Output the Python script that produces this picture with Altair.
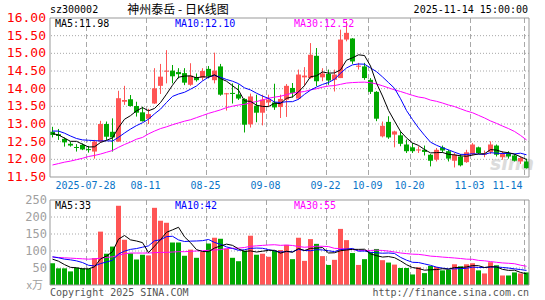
import altair as alt
import pandas as pd
import numpy as np

# ---------------- data ----------------
dates = ["07-18", "07-21", "07-22", "07-23", "07-24", "07-25", "07-28", "07-29", "07-30", "07-31",
         "08-01", "08-04", "08-05", "08-06", "08-07", "08-08", "08-11", "08-12", "08-13", "08-14",
         "08-15", "08-18", "08-19", "08-20", "08-21", "08-22", "08-25", "08-26", "08-27", "08-28",
         "08-29", "09-01", "09-02", "09-03", "09-04", "09-05", "09-08", "09-09", "09-10", "09-11",
         "09-12", "09-15", "09-16", "09-17", "09-18", "09-19", "09-22", "09-23", "09-24", "09-25",
         "09-26", "09-29", "09-30", "10-09", "10-10", "10-13", "10-14", "10-15", "10-16", "10-17",
         "10-20", "10-21", "10-22", "10-23", "10-24", "10-27", "10-28", "10-29", "10-30", "10-31",
         "11-03", "11-04", "11-05", "11-06", "11-07", "11-10", "11-11", "11-12", "11-13", "11-14"]

opens = [12.78, 12.71, 12.58, 12.44, 12.35, 12.41, 12.29, 12.22, 12.50, 13.00,
         12.78, 12.50, 13.63, 13.70, 13.51, 13.33, 13.15, 13.58, 14.08, 14.49,
         14.51, 14.47, 14.44, 14.11, 14.33, 14.31, 14.56, 14.24, 14.63, 13.85,
         13.88, 13.84, 13.71, 12.99, 13.52, 13.32, 13.61, 13.61, 13.48, 13.69,
         14.02, 13.72, 14.32, 14.30, 14.93, 14.32, 14.42, 14.25, 14.30, 15.39,
         15.42, 14.62, 14.63, 14.25, 13.91, 12.65, 13.06, 12.70, 12.68, 12.42,
         12.34, 12.26, 12.27, 12.13, 11.99, 12.34, 12.23, 11.96, 12.08, 11.92,
         12.15, 12.34, 12.14, 12.21, 12.39, 12.06, 12.18, 12.11, 11.94, 11.94]
highs = [12.92, 12.86, 12.62, 12.50, 12.43, 12.45, 12.38, 12.55, 13.09, 13.07,
         13.16, 13.94, 14.08, 13.82, 13.63, 13.49, 13.43, 14.58, 14.70, 15.09,
         14.67, 14.58, 14.58, 14.72, 14.43, 14.58, 14.64, 15.02, 14.70, 13.88,
         14.15, 14.12, 13.73, 13.86, 13.83, 13.83, 13.83, 14.14, 13.83, 14.13,
         14.16, 14.54, 14.61, 15.29, 15.15, 14.58, 14.54, 14.54, 15.67, 15.91,
         15.43, 14.73, 14.73, 14.30, 13.93, 13.07, 13.22, 12.81, 12.79, 12.56,
         12.46, 12.37, 12.39, 12.15, 12.32, 12.39, 12.27, 12.18, 12.15, 12.27,
         12.46, 12.36, 12.25, 12.51, 12.42, 12.23, 12.23, 12.15, 12.08, 12.02]
lows = [12.62, 12.55, 12.36, 12.36, 12.22, 12.26, 12.19, 12.02, 12.47, 12.55,
        12.22, 12.50, 13.54, 13.49, 13.21, 13.07, 13.00, 13.57, 13.85, 14.15,
        14.15, 14.29, 14.10, 14.08, 14.20, 14.23, 14.29, 14.15, 13.80, 13.38,
        13.58, 13.68, 12.76, 12.90, 13.05, 12.96, 13.49, 13.40, 13.17, 13.20,
        13.75, 13.69, 14.07, 14.28, 14.07, 14.21, 14.11, 13.92, 14.30, 15.34,
        14.70, 14.54, 14.25, 13.85, 13.08, 12.62, 12.58, 12.34, 12.37, 12.18,
        12.18, 12.18, 12.11, 11.80, 11.94, 12.19, 11.94, 11.77, 11.80, 11.90,
        12.11, 12.15, 12.06, 12.15, 12.08, 11.99, 12.02, 11.94, 11.87, 11.74]
closes = [12.69, 12.66, 12.48, 12.39, 12.33, 12.28, 12.27, 12.50, 13.00, 12.64,
          12.62, 13.73, 13.68, 13.51, 13.32, 13.08, 13.28, 14.01, 14.34, 14.51,
          14.35, 14.41, 14.17, 14.37, 14.24, 14.50, 14.35, 14.51, 13.83, 13.87,
          13.86, 13.72, 12.98, 13.78, 13.32, 13.69, 13.69, 13.47, 13.71, 14.08,
          13.88, 14.40, 14.37, 14.96, 14.21, 14.43, 14.23, 14.40, 15.39, 15.58,
          14.77, 14.65, 14.30, 13.91, 13.15, 12.95, 12.62, 12.79, 12.44, 12.23,
          12.23, 12.28, 12.21, 11.96, 12.27, 12.25, 12.02, 12.13, 11.83, 12.20,
          12.42, 12.18, 12.16, 12.42, 12.13, 12.15, 12.08, 11.96, 12.04, 11.75]
volumes = [64, 49, 49, 40, 51, 49, 48, 79, 157, 92,
           113, 233, 133, 93, 75, 89, 87, 227, 189, 183,
           125, 125, 86, 104, 80, 98, 122, 139, 136, 106,
           80, 70, 101, 145, 89, 92, 83, 101, 103, 118,
           76, 139, 71, 135, 121, 85, 59, 74, 165, 132,
           94, 59, 76, 97, 106, 73, 66, 60, 50, 50,
           31, 52, 35, 56, 53, 43, 45, 61, 55, 61,
           64, 43, 34, 67, 58, 28, 28, 37, 34, 37]

# moving-average values at the left edge (they depend on days before the window)
ma5_head = [12.73, 12.69, 12.60, 12.51]
ma10_head = [12.80, 12.80, 12.74, 12.66, 12.59, 12.55, 12.54, 12.53, 12.52]
ma30_head = [11.84, 11.88, 11.92, 11.95, 11.99, 12.03, 12.08, 12.11, 12.15, 12.20,
             12.25, 12.34, 12.42, 12.49, 12.57, 12.62, 12.72, 12.80, 12.87, 12.92,
             12.98, 13.03, 13.08, 13.12, 13.18, 13.24, 13.30, 13.35, 13.40]
vma5_head = [76, 70, 60, 52]
vma10_head = [83, 80, 76, 74, 71, 66, 58, 56, 63]
vma30_head = [82, 81, 80, 79, 78, 77, 76, 77, 79, 81,
              83, 87, 92, 94, 94, 94, 94, 95, 96, 96,
              97, 98, 98, 99, 100, 101, 102, 103, 104]

price_ticks = [16.0, 15.5, 15.0, 14.5, 14.0, 13.5, 13.0, 12.5, 12.0, 11.5]
price_tick_labels = ["16.00", "15.50", "15.00", "14.50", "14.00", "13.50", "13.00", "12.50", "12.00", "11.50"]
vol_ticks = [250, 200, 150, 100, 50]
vol_tick_labels = ["250", "200", "150", "100", "50"]
label_dates = ["07-28", "08-11", "08-25", "09-08", "09-22", "10-09", "10-20", "11-03", "11-14"]
label_texts = ["2025-07-28", "08-11", "08-25", "09-08", "09-22", "10-09", "10-20", "11-03", "11-14"]

price_legend = ["MA5:11.98", "MA10:12.10", "MA30:12.52"]
vol_legend = ["MA5:33", "MA10:42", "MA30:55"]
stock_code = "sz300002"
title_text = "神州泰岳 - 日K线图"
timestamp_text = "2025-11-14 15:00:00"
copyright_text = "Copyright 2025 SINA.COM"
url_text = "http://finance.sina.com.cn"
unit_text = "x万"

# ---------------- styles ----------------
RED = "#ff5555"
GREEN = "#00a800"
GRID = "#a8a8a8"
FRAME = "#999999"
DATE_BLUE = "#0a74c8"
MONO = "DejaVu Sans Mono"
CJK = "Noto Sans CJK SC"

# ---------------- table ----------------
n = len(dates)
df = pd.DataFrame({"date": dates, "open": opens, "high": highs, "low": lows,
                   "close": closes, "volume": volumes})
df["i"] = np.arange(n)
df["dir"] = np.where(df["close"] >= df["open"], "up", "down")
df["top"] = df[["open", "close"]].max(axis=1)
df["bot"] = np.minimum(df[["open", "close"]].min(axis=1), df["top"] - 0.03)


def moving(series, w, head):
    r = series.rolling(w).mean().to_numpy()
    r[:w - 1] = head
    return r


df["ma5"] = moving(df["close"], 5, ma5_head)
df["ma10"] = moving(df["close"], 10, ma10_head)
df["ma30"] = moving(df["close"], 30, ma30_head)
df["vma5"] = moving(df["volume"].astype(float), 5, vma5_head)
df["vma10"] = moving(df["volume"].astype(float), 10, vma10_head)
df["vma30"] = moving(df["volume"].astype(float), 30, vma30_head)

gdf = pd.DataFrame({"date": label_dates, "text": label_texts})
gdf["i"] = [dates.index(d) for d in label_dates]

X0, X1 = -5 / 12, n - 1 + 5 / 12
xs = alt.Scale(domain=[X0, X1], nice=False, zero=False)
ps = alt.Scale(domain=[11.5, 16.0], range=[159, 0], nice=False, zero=False)
vs = alt.Scale(domain=[0, 250], range=[267, 182], nice=False, zero=False)
color_dir = alt.Color("dir:N", scale=alt.Scale(domain=["up", "down"], range=[RED, GREEN]), legend=None)

base = alt.Chart(df)

# grids
pgrid_h = alt.Chart(pd.DataFrame({"p": price_ticks[1:-1]})).mark_rule(
    color=GRID, strokeDash=[1, 2], strokeWidth=1).encode(y=alt.Y("p:Q", scale=ps, axis=None))
vgrid_h = alt.Chart(pd.DataFrame({"v": vol_ticks[1:]})).mark_rule(
    color=GRID, strokeDash=[1, 2], strokeWidth=1).encode(y=alt.Y("v:Q", scale=vs, axis=None))
pgrid_v = alt.Chart(gdf).transform_calculate(gx="datum.i - 1/3").mark_rule(
    color=GRID, strokeDash=[5, 3], strokeWidth=1).encode(
    x=alt.X("gx:Q", scale=xs, axis=None),
    y=alt.YDatum(16.0, scale=ps, axis=None), y2=alt.Y2Datum(11.5))
vgrid_v = alt.Chart(gdf).transform_calculate(gx="datum.i - 1/3").mark_rule(
    color=GRID, strokeDash=[5, 3], strokeWidth=1).encode(
    x=alt.X("gx:Q", scale=xs, axis=None),
    y=alt.YDatum(250, scale=vs, axis=None), y2=alt.Y2Datum(0))

# candles
wick = base.mark_rule(strokeWidth=1).encode(
    x=alt.X("i:Q", scale=xs, axis=None),
    y=alt.Y("low:Q", scale=ps, axis=None), y2="high:Q", color=color_dir)
body = base.transform_calculate(xa="datum.i - 5/12", xb="datum.i + 5/12").mark_rect().encode(
    x=alt.X("xa:Q", scale=xs, axis=None), x2="xb:Q",
    y=alt.Y("bot:Q", scale=ps, axis=None), y2="top:Q", color=color_dir)
vbar = base.transform_calculate(xa="datum.i - 5/12", xb="datum.i + 5/12").mark_rect().encode(
    x=alt.X("xa:Q", scale=xs, axis=None), x2="xb:Q",
    y=alt.Y("volume:Q", scale=vs, axis=None), y2=alt.Y2Datum(0), color=color_dir)


def line(field, color, scale):
    return base.mark_line(color=color, strokeWidth=1).encode(
        x=alt.X("i:Q", scale=xs, axis=None),
        y=alt.Y(f"{field}:Q", scale=scale, axis=None))


lines = [line("ma30", "#ff00ff", ps), line("ma10", "#0000ff", ps), line("ma5", "#000000", ps),
         line("vma30", "#ff00ff", vs), line("vma10", "#0000ff", vs), line("vma5", "#000000", vs)]

# frames
pframe = alt.Chart(gdf.head(1)).mark_rect(fill=None, stroke=FRAME, strokeWidth=1).encode(
    x=alt.XDatum(X0, scale=xs, axis=None), x2=alt.X2Datum(X1),
    y=alt.YDatum(16.0, scale=ps, axis=None), y2=alt.Y2Datum(11.5))
vframe = alt.Chart(gdf.head(1)).mark_rect(fill=None, stroke=FRAME, strokeWidth=1).encode(
    x=alt.XDatum(X0, scale=xs, axis=None), x2=alt.X2Datum(X1),
    y=alt.YDatum(250, scale=vs, axis=None), y2=alt.Y2Datum(0))

# axis labels
plab = alt.Chart(pd.DataFrame({"p": price_ticks, "t": price_tick_labels})).mark_text(
    align="right", baseline="middle", font=MONO, fontSize=13, color="#ff0000", dx=-4).encode(
    x=alt.value(0), y=alt.Y("p:Q", scale=ps, axis=None), text="t:N")
vlab = alt.Chart(pd.DataFrame({"v": vol_ticks, "t": vol_tick_labels})).mark_text(
    align="right", baseline="middle", font=MONO, fontSize=12, color="#a0a0a0", dx=-3).encode(
    x=alt.value(0), y=alt.Y("v:Q", scale=vs, axis=None), text="t:N")
unit_lab = alt.Chart(pd.DataFrame({"t": [unit_text]})).mark_text(
    align="right", baseline="middle", font=CJK, fontSize=11, color="#a0a0a0").encode(
    x=alt.value(-7), y=alt.value(268), text="t:N")
dlab = alt.Chart(gdf.iloc[:-1]).transform_calculate(gx="datum.i - 1/3").mark_text(
    align="center", baseline="middle", font=MONO, fontSize=10, color=DATE_BLUE, dx=-1).encode(
    x=alt.X("gx:Q", scale=xs, axis=None), y=alt.value(168), text="text:N")
dlab_last = alt.Chart(gdf.iloc[-1:]).transform_calculate(gx="datum.i - 1/3").mark_text(
    align="right", baseline="middle", font=MONO, fontSize=10, color=DATE_BLUE, dx=-2).encode(
    x=alt.X("gx:Q", scale=xs, axis=None), y=alt.value(168), text="text:N")

# legends
leg_colors = ["#000000", "#0000ff", "#ff00ff"]
leg_x = [5, 125, 244]
legend_layers = []
for txt, col, lx in zip(price_legend, leg_colors, leg_x):
    legend_layers.append(alt.Chart(pd.DataFrame({"t": [txt]})).mark_text(
        align="left", baseline="middle", font=MONO, fontSize=10, color=col).encode(
        x=alt.value(lx), y=alt.value(6), text="t:N"))
for txt, col, lx in zip(vol_legend, leg_colors, leg_x):
    legend_layers.append(alt.Chart(pd.DataFrame({"t": [txt]})).mark_text(
        align="left", baseline="middle", font=MONO, fontSize=10, color=col).encode(
        x=alt.value(lx), y=alt.value(188), text="t:N"))

# header / footer
def free_text(txt, x, y, align, font, size, color, **kw):
    return alt.Chart(pd.DataFrame({"t": [txt]})).mark_text(
        align=align, baseline="middle", font=font, fontSize=size, color=color, **kw).encode(
        x=alt.value(x), y=alt.value(y), text="t:N")


header = [
    free_text(stock_code, 0, -8, "left", MONO, 10, "#000000"),
    free_text(title_text, 128, -8, "center", CJK, 12, "#000000"),
    free_text(timestamp_text, 478, -8, "right", MONO, 10, "#000000"),
    free_text(copyright_text, 0, 275, "left", MONO, 10, "#555555"),
    free_text(url_text, 479, 275, "right", MONO, 10, "#555555"),
    free_text("sina", 462, 146, "center", "DejaVu Sans", 19, "#d4d4d4",
              fontStyle="italic", fontWeight="bold", opacity=0.8),
]

layers = [pgrid_h, vgrid_h, pgrid_v, vgrid_v, header[-1], wick, body, vbar] + lines + \
         [pframe, vframe, plab, vlab, unit_lab, dlab, dlab_last] + legend_layers + header[:-1]

chart = alt.layer(*layers).resolve_scale(y="independent").properties(
    width=479, height=267,
    autosize=alt.AutoSizeParams(type="none"),
    padding={"left": 50, "top": 18, "right": 16, "bottom": 15},
    background="white",
).configure_view(stroke=None)

chart.save("out.html", embed_options={"renderer": "svg", "actions": False})
